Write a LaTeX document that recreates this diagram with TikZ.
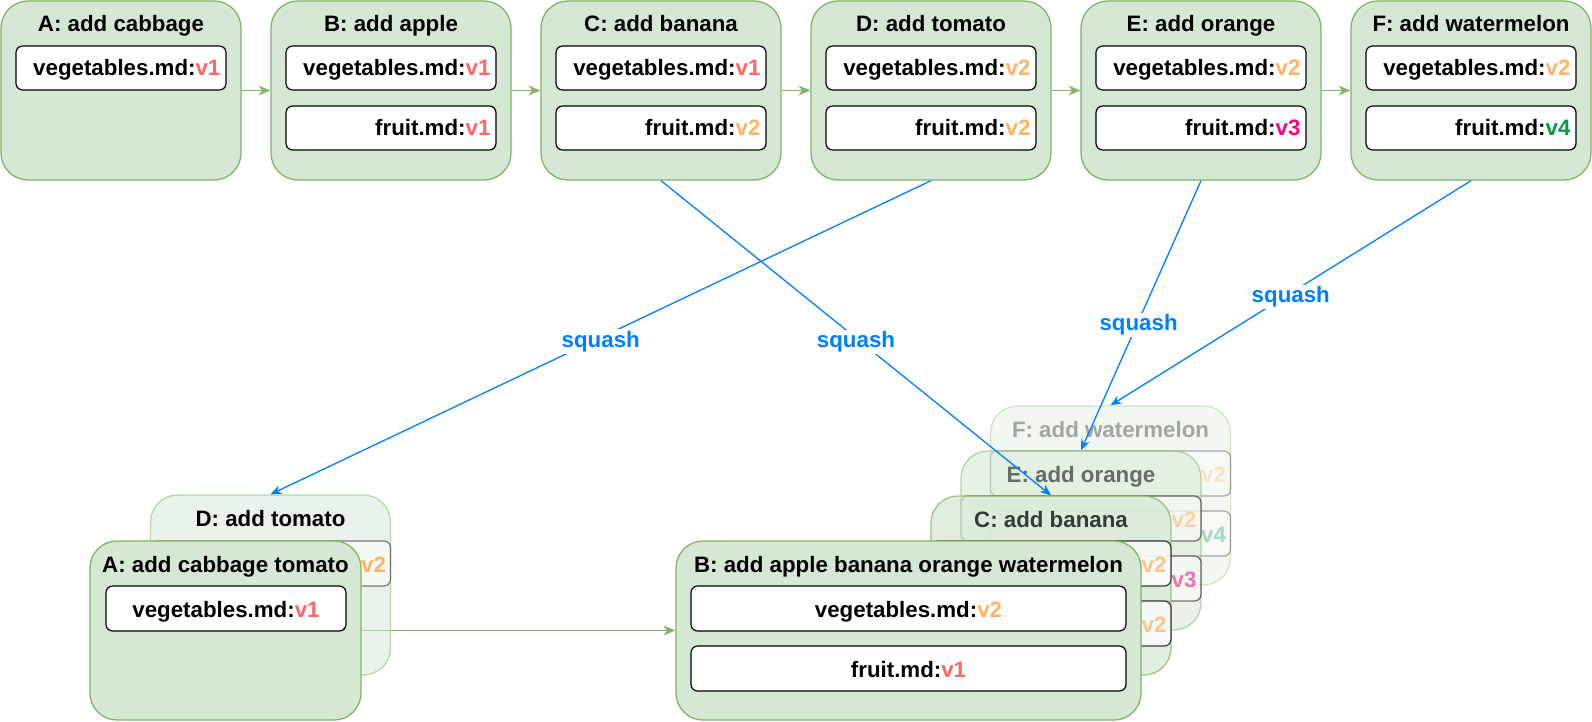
\documentclass[tikz,border=0pt]{standalone}
\usepackage{fontspec}
\setmainfont{Liberation Sans}
\usetikzlibrary{arrows.meta}
\pgfdeclarelayer{bg}
\pgfsetlayers{bg,main}
\definecolor{cardfill}{HTML}{D5E8D4}
\definecolor{cardline}{HTML}{82B366}
\definecolor{sqblue}{HTML}{007FFF}
\definecolor{vone}{HTML}{FF6666}
\definecolor{vtwo}{HTML}{FFB366}
\definecolor{vthree}{HTML}{FF0080}
\definecolor{vfour}{HTML}{00994D}
\newcommand{\verA}{\textcolor{vone}{v1}}
\newcommand{\verB}{\textcolor{vtwo}{v2}}
\newcommand{\verC}{\textcolor{vthree}{v3}}
\newcommand{\verD}{\textcolor{vfour}{v4}}
% top-row card: name, centre x, title, vegetables version, fruit version
\newcommand{\topcard}[5]{%
  \node[card] (#1) at (#2,90.5) {};
  \node[title] (#1t) at (#2,32) {#3};
  \node[filebox] (#1v) at (#2,68) {};
  \node[ftext] (#1vt) at ([shift={(-6,8)}]#1v.east) {vegetables.md:#4};
  \node[filebox] (#1f) at (#2,128) {};
  \node[ftext] (#1ft) at ([shift={(-6,8)}]#1f.east) {fruit.md:#5};
}
% faded card: name, centre x, top y, title, first version, second version
\newcommand{\ghostcard}[6]{%
  \node[card] (#1) at (#2,#3+89.5) {};
  \node[title] (#1t) at (#2,#3+31) {#4};
  \node[filebox, minimum width=240bp, minimum height=45bp] (#1v) at (#2,#3+67.5) {};
  \node[ftext] (#1vt) at ([shift={(-5,8.5)}]#1v.east) {#5};
  \node[filebox, minimum width=240bp, minimum height=45bp] (#1f) at (#2,#3+127.5) {};
  \node[ftext] (#1ft) at ([shift={(-5,8.5)}]#1f.east) {#6};
}
\begin{document}
\begin{tikzpicture}[x=1bp,y=-1bp,
  font=\fontsize{22.3bp}{27bp}\selectfont\bfseries,
  card/.style={draw=cardline, fill=cardfill, line width=1.3bp, rounded corners=27bp,
    inner sep=0pt, minimum height=179bp, minimum width=240bp},
  filebox/.style={draw=black, fill=white, line width=1.2bp, rounded corners=6.6bp,
    inner sep=0pt, minimum height=44bp, minimum width=210bp},
  title/.style={anchor=base, inner sep=0pt},
  ftext/.style={anchor=base east, inner sep=0pt},
  ctext/.style={anchor=base, inner sep=0pt},
  flow/.style={draw=cardline, line width=1.3bp, -{Stealth[length=12bp,width=10bp]}},
  squash/.style={draw=sqblue, line width=1.3bp, -{Stealth[length=11bp,width=9bp]}},
  sqlabel/.style={fill=white, text=sqblue, inner sep=2bp, yshift=-4bp}
]
\useasboundingbox (0,0) rectangle (1592,722);

% ---------- top row ----------
\node[card] (A) at (121,90.5) {};
\node[title] (At) at (121,32) {A: add cabbage};
\node[filebox] (Av) at (121,68) {};
\node[ftext] (Avt) at ([shift={(-6,8)}]Av.east) {vegetables.md:\verA};

\topcard{B}{391}{B: add apple}{\verA}{\verA}
\topcard{C}{661}{C: add banana}{\verA}{\verB}
\topcard{D}{931}{D: add tomato}{\verB}{\verB}
\topcard{E}{1201}{E: add orange}{\verB}{\verC}
\topcard{F}{1471}{F: add watermelon}{\verB}{\verD}

\draw[flow] (A.east) -- (B.west);
\draw[flow] (B.east) -- (C.west);
\draw[flow] (C.east) -- (D.west);
\draw[flow] (D.east) -- (E.west);
\draw[flow] (E.east) -- (F.west);

% ---------- right stack ----------
\begin{scope}[opacity=0.33]
\ghostcard{Fg}{1110.5}{406}{F: add watermelon}{\verB}{\verD}
\end{scope}
\begin{scope}[opacity=0.55]
\ghostcard{Eg}{1081}{451}{E: add orange}{\verB}{\verC}
\end{scope}
\begin{scope}[opacity=0.75]
\ghostcard{Cg}{1051}{496}{C: add banana}{\verB}{\verB}
\end{scope}

\node[card, minimum width=465bp] (Bb) at (908.5,630.5) {};
\node[title] (Bbt) at (908.5,572) {B: add apple banana orange watermelon};
\node[filebox, minimum width=435bp, minimum height=45bp] (Bbv) at (908.5,608.5) {};
\node[ctext] (Bbvt) at (908.5,617) {vegetables.md:\verB};
\node[filebox, minimum width=435bp, minimum height=45bp] (Bbf) at (908.5,668.5) {};
\node[ctext] (Bbft) at (908.5,677) {fruit.md:\verA};

% ---------- left stack ----------
\begin{scope}[fill opacity=0.5, draw opacity=0.5]
\node[card, minimum height=180bp] (Dg) at (270.5,585) {};
\node[filebox, minimum width=240bp, minimum height=45bp] (Dgv) at (270.5,563.5) {};
\end{scope}
\node[title] (Dgt) at (270.5,526) {D: add tomato};
\node[ftext] (Dgvt) at ([shift={(-5,8.5)}]Dgv.east) {\verB};

\node[card, minimum width=271bp] (Ab) at (225.5,630.5) {};
\node[title] (Abt) at (225.5,572) {A: add cabbage tomato};
\node[filebox, minimum width=240bp, minimum height=45bp] (Abv) at (226,608.5) {};
\node[ctext] (Abvt) at (226,617) {vegetables.md:\verA};

\begin{pgfonlayer}{bg}
\draw[flow] (Ab.east) -- (Bb.west);
\end{pgfonlayer}

% ---------- squash arrows ----------
\draw[squash] (D.south) -- node[sqlabel] (s1) {squash} (Dg.north);
\draw[squash] (C.south) -- node[sqlabel] (s2) {squash} (Cg.north);
\draw[squash] (E.south) -- node[sqlabel, pos=0.52] (s3) {squash} (Eg.north);
\draw[squash] (F.south) -- node[sqlabel] (s4) {squash} (Fg.north);
\end{tikzpicture}
\end{document}
